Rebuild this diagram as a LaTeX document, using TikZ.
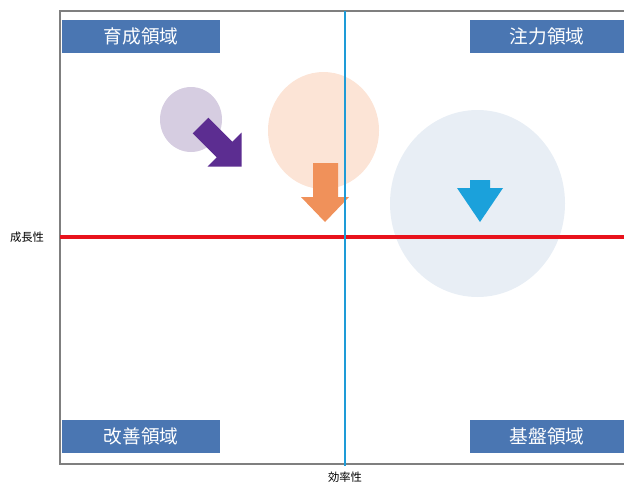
\documentclass[tikz,border=0pt]{standalone}
\usepackage{fontspec}
\setmainfont{Noto Sans CJK JP}
\usepackage{xcolor}
\usetikzlibrary{shapes.geometric}
\definecolor{areablue}{HTML}{4A76B2}
\definecolor{framegray}{HTML}{7F7F7F}
\definecolor{axisblue}{HTML}{1E9BD7}
\definecolor{axisred}{HTML}{E8121C}
\definecolor{lilac}{HTML}{D6CDE1}
\definecolor{peach}{HTML}{FCE4D6}
\definecolor{mist}{HTML}{E8EEF5}
\definecolor{deeppurple}{HTML}{5C2D91}
\definecolor{coral}{HTML}{F0915A}
\definecolor{skyblue}{HTML}{1BA1DB}

\begin{document}
\begin{tikzpicture}[x=0.75pt,y=-0.75pt,
    areabox/.style={fill=areablue,text=white,inner sep=0pt,
        minimum height=24.75pt,font=\fontsize{14}{16}\selectfont},
    axislabel/.style={inner sep=0pt,font=\fontsize{8.5}{10}\selectfont},
    blob/.style={ellipse,inner sep=0pt,draw=none}]
    \useasboundingbox (0,0) rectangle (624,482);

    % circles
    \node[blob,fill=lilac,minimum width=46.5pt,minimum height=48.75pt] (ikusei) at (191,119.5) {};
    \node[blob,fill=peach,minimum width=83.25pt,minimum height=87.75pt] (kouka) at (323.5,130.5) {};
    \node[blob,fill=mist,minimum width=131.25pt,minimum height=140.25pt] (kiban) at (477.5,203.5) {};

    % arrows
    \fill[deeppurple] (208.3,117.7) -- (232.3,141.7) -- (241.5,132.5) -- (241.5,166.5)
        -- (207.5,166.5) -- (216.7,157.3) -- (192.7,133.3) -- cycle;
    \fill[coral] (313,163) -- (338,163) -- (338,197) -- (349,197) -- (325,222)
        -- (301,197) -- (313,197) -- cycle;
    \fill[skyblue] (470,180) -- (490,180) -- (490,188) -- (503,188) -- (480,222)
        -- (457,188) -- (470,188) -- cycle;

    % frame and axes
    \coordinate (tl) at (60,11);
    \coordinate (tr) at (624,11);
    \coordinate (bl) at (60,464);
    \coordinate (br) at (624,464);
    \coordinate (vtop) at (345,11);
    \coordinate (vbot) at (345,466);
    \coordinate (hleft) at (60,237);
    \coordinate (hright) at (624,237);
    \draw[framegray,line width=1.5pt] (tr) -- (tl) -- (bl) -- (br);
    \draw[axisred,line width=2.4pt] (hleft) -- (hright);
    \draw[axisblue,line width=2.1pt] (vtop) -- (vbot);

    % area labels
    \node[areabox,minimum width=118.5pt] (ikuseiryo) at (141,36.5) {育成領域};
    \node[areabox,minimum width=115.5pt] (chuuryoku) at (547,36.5) {注力領域};
    \node[areabox,minimum width=118.5pt] (kaizen) at (141,436.5) {改善領域};
    \node[areabox,minimum width=115.5pt] (kibanryo) at (547,436.5) {基盤領域};

    \node[axislabel] (seichou) at (27,237) {成長性};
    \node[axislabel] (kouritsu) at (345,477) {効率性};
\end{tikzpicture}
\end{document}
